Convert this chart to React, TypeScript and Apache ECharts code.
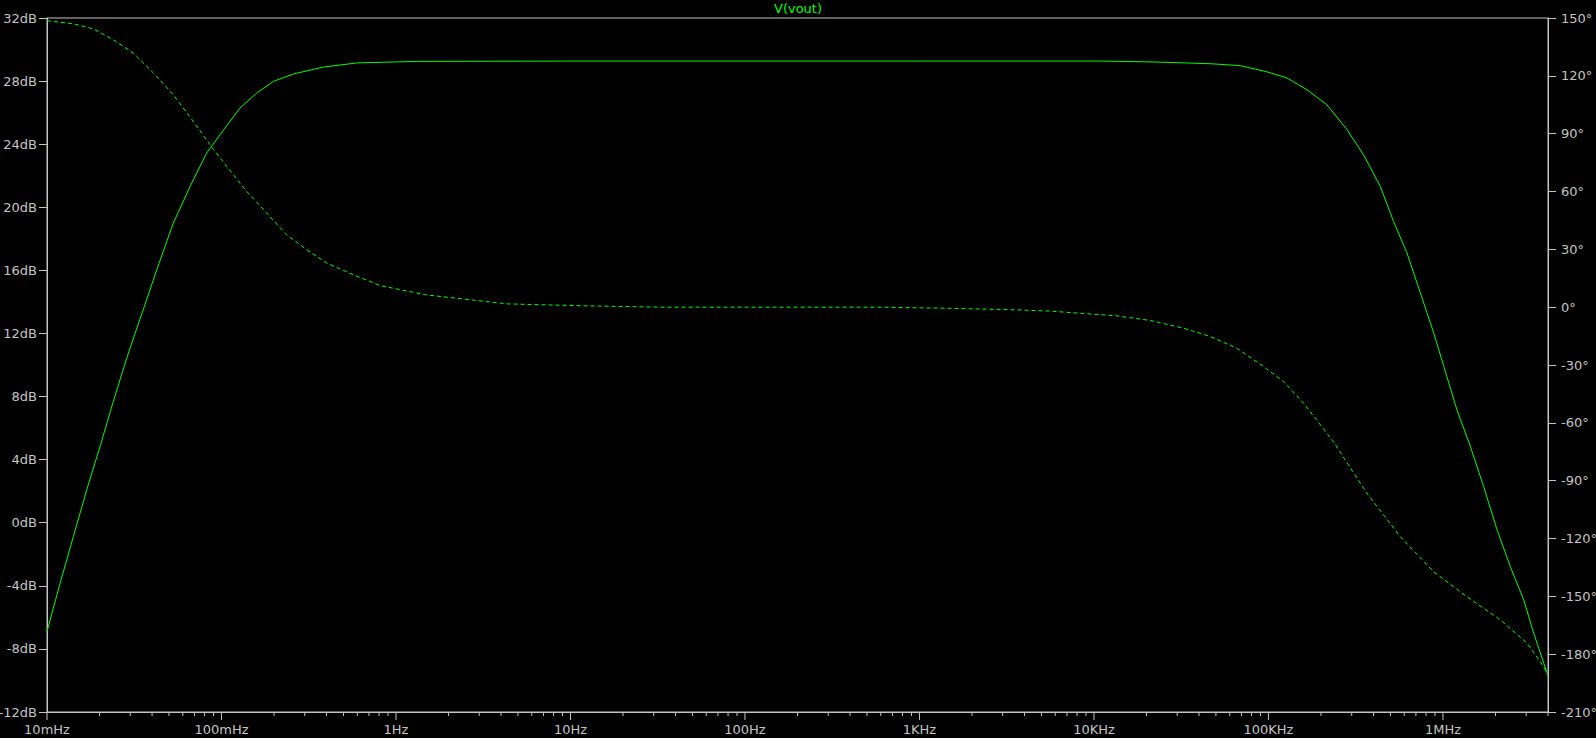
import React, { useEffect, useRef } from "react";
import * as echarts from "echarts";

// Magnitude trace (solid) — frequency in Hz, gain in dB
const magFreq = [
  0.01, 0.01189, 0.01416, 0.0169, 0.02014, 0.02399, 0.02864, 0.03162, 0.03724, 0.04256,
  0.05297, 0.06607, 0.08222, 0.09817, 0.1276, 0.1592, 0.1982, 0.2582, 0.3837, 0.5957,
  1.315, 10, 100, 1000, 10865, 22439, 46774, 68865, 97949, 127644,
  166341, 216272, 281838, 350752, 437522, 521195, 622300, 743019, 885116, 1011579,
  1202264, 1435489, 1710015, 2041738, 2432204, 2904023, 3311311, 4000000,
];
const magDb = [
  -6.9, -3.83, -0.87, 2.09, 4.84, 7.69, 10.44, 11.85, 14.14, 16.04,
  19.0, 21.32, 23.44, 24.6, 26.29, 27.24, 27.98, 28.45, 28.89, 29.15,
  29.25, 29.27, 29.27, 29.27, 29.27, 29.21, 29.1, 28.98, 28.59, 28.2,
  27.45, 26.5, 24.92, 23.33, 21.32, 19.1, 17.1, 14.56, 12.03, 9.91,
  7.16, 4.84, 2.3, -0.45, -2.78, -4.89, -7.0, -9.7,
];

// Phase trace (dashed) — frequency in Hz, phase in degrees
const phaseFreq = [
  0.01, 0.01416, 0.01841, 0.02399, 0.03126, 0.04074, 0.05297, 0.06902, 0.0859, 0.1072,
  0.1396, 0.1816, 0.2366, 0.3083, 0.4009, 0.5702, 0.811, 1.479, 4.365, 11.97,
  32.89, 557, 1318, 3673, 5610, 13521, 20989, 32584, 46345, 65917,
  93756, 122180, 158855, 234423, 366438, 568853, 883079, 1370882, 2133045, 3033891,
  3614099, 4000000,
];
const phaseDeg = [
  148.6, 147.0, 144.4, 138.7, 131.8, 121.5, 110.2, 96.3, 84.3, 73.0,
  60, 48.8, 37.5, 29.8, 22.9, 16.8, 11.2, 6.4, 1.7, 0.7,
  0.0, 0.0, -0.5, -1.4, -2.05, -4.5, -6.9, -10.9, -15.2, -21.3,
  -30.8, -38.6, -49.8, -69.5, -96.5, -119, -137.2, -150.2, -162.2, -174.3,
  -183.9, -190.5,
];

// Axis ticks
const xDecadeLabels = ["10mHz", "100mHz", "1Hz", "10Hz", "100Hz", "1KHz", "10KHz", "100KHz", "1MHz"];
const xDecadeExponents = [-2, -1, 0, 1, 2, 3, 4, 5, 6];
const xMinorMultipliers = [2, 3, 4, 5, 6, 7, 8, 9];
const xMin = 0.01;
const xMax = 4000000;

const GREY = "#c4c4c4";
const GREEN = "#00ff00";
const FONT = "DejaVu Sans";

export default function App() {
  const ref = useRef<HTMLDivElement>(null);

  useEffect(() => {
    if (!ref.current) return;
    const chart = echarts.init(ref.current, undefined, { renderer: "svg" });

    const majorTicks = xDecadeExponents.map((e) => [Math.pow(10, e), 8]);
    const minorTicks: number[][] = [];
    xDecadeExponents.forEach((e) => {
      xMinorMultipliers.forEach((m) => {
        const f = m * Math.pow(10, e);
        if (f <= xMax * 1.0001) minorTicks.push([f, 4]);
      });
    });
    const allTicks = majorTicks.concat(minorTicks);

    chart.setOption({
      animation: false,
      backgroundColor: "#000000",
      title: {
        text: "V(vout)",
        left: "center",
        top: 2,
        padding: 0,
        textStyle: { color: GREEN, fontSize: 13, fontWeight: "normal", fontFamily: FONT },
      },
      grid: {
        left: 47,
        right: 48,
        top: 18,
        bottom: 26,
        containLabel: false,
        outerBoundsMode: "none",
        show: true,
        borderColor: GREY,
        borderWidth: 1,
        backgroundColor: "transparent",
      },
      xAxis: {
        type: "log",
        logBase: 10,
        min: xMin,
        max: xMax,
        axisLine: { show: true, onZero: false, lineStyle: { color: GREY, width: 1 } },
        axisTick: { show: false },
        splitLine: { show: false },
        axisLabel: {
          color: GREY,
          fontSize: 13,
          fontFamily: FONT,
          margin: 11,
          hideOverlap: false,
          formatter: (v: number) => {
            const lg = Math.log10(v);
            const r = Math.round(lg);
            if (Math.abs(lg - r) > 1e-6) return "";
            const i = xDecadeExponents.indexOf(r);
            return i >= 0 ? xDecadeLabels[i] : "";
          },
        },
      },
      yAxis: [
        {
          type: "value",
          position: "left",
          min: -12,
          max: 32,
          interval: 4,
          axisLine: { show: true, onZero: false, lineStyle: { color: GREY, width: 1 } },
          axisTick: { show: true, length: 8, lineStyle: { color: GREY, width: 1 } },
          splitLine: { show: false },
          axisLabel: {
            color: GREY,
            fontSize: 13,
            fontFamily: FONT,
            margin: 10,
            showMinLabel: true,
            showMaxLabel: true,
            formatter: (v: number) => `${v}dB`,
          },
        },
        {
          type: "value",
          position: "right",
          min: -210,
          max: 150,
          interval: 30,
          axisLine: { show: true, onZero: false, lineStyle: { color: GREY, width: 1 } },
          axisTick: { show: true, length: 8, lineStyle: { color: GREY, width: 1 } },
          splitLine: { show: false },
          axisLabel: {
            color: GREY,
            fontSize: 13,
            fontFamily: FONT,
            margin: 13,
            showMinLabel: true,
            showMaxLabel: true,
            formatter: (v: number) => `${v}°`,
          },
        },
      ],
      series: [
        {
          name: "V(vout) magnitude",
          type: "line",
          xAxisIndex: 0,
          yAxisIndex: 0,
          data: magFreq.map((f, i) => [f, magDb[i]]),
          showSymbol: false,
          smooth: false,
          lineStyle: { color: GREEN, width: 1 },
          itemStyle: { color: GREEN },
        },
        {
          name: "V(vout) phase",
          type: "line",
          xAxisIndex: 0,
          yAxisIndex: 1,
          data: phaseFreq.map((f, i) => [f, phaseDeg[i]]),
          showSymbol: false,
          smooth: false,
          lineStyle: { color: GREEN, width: 1, type: [4, 3] },
          itemStyle: { color: GREEN },
        },
        {
          name: "xticks",
          type: "custom",
          xAxisIndex: 0,
          yAxisIndex: 0,
          silent: true,
          clip: false,
          data: allTicks.map((t) => [t[0], -12, t[1]]),
          renderItem: (params: any, api: any) => {
            const p = api.coord([api.value(0), api.value(1)]);
            const len = api.value(2);
            return {
              type: "line",
              shape: { x1: p[0], y1: p[1], x2: p[0], y2: p[1] + len },
              style: { stroke: GREY, lineWidth: 1 },
            };
          },
        },
      ],
    });

    return () => chart.dispose();
  }, []);

  return (
    <div
      ref={ref}
      style={{
        position: "fixed",
        left: 0,
        top: 0,
        width: "1596px",
        height: "738px",
        background: "#000000",
      }}
    />
  );
}
